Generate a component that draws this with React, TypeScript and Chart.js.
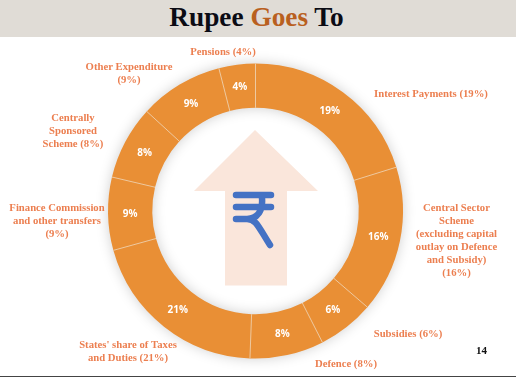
import React, { useEffect, useRef } from "react";
import { Chart, registerables } from "chart.js";

Chart.register(...registerables);

const categories = [
  "Interest Payments",
  "Central Sector Scheme",
  "Subsidies",
  "Defence",
  "States' share of Taxes and Duties",
  "Finance Commission and other transfers",
  "Centrally Sponsored Scheme",
  "Other Expenditure",
  "Pensions",
];
const sliceValues = [20.2, 16.1, 6.2, 8.1, 20.1, 8, 8.1, 9.2, 4];
const sliceLabels = ["19%", "16%", "6%", "8%", "21%", "9%", "8%", "9%", "4%"];

const serif = '"Liberation Serif", serif';
const calloutColor = "#ec7f50";

const callouts = [
  { lines: ["Interest Payments (19%)"], x: 431, y: 94.5 },
  { lines: ["Central Sector", "Scheme", "(excluding capital", "outlay on Defence", "and Subsidy)", "(16%)"], x: 456.5, y: 240.5 },
  { lines: ["Subsidies (6%)"], x: 408, y: 334 },
  { lines: ["Defence (8%)"], x: 346, y: 364 },
  { lines: ["States' share of Taxes", "and Duties (21%)"], x: 128, y: 351.5 },
  { lines: ["Finance Commission", "and other transfers", "(9%)"], x: 57, y: 221 },
  { lines: ["Centrally", "Sponsored", "Scheme (8%)"], x: 73, y: 131 },
  { lines: ["Other Expenditure", "(9%)"], x: 129, y: 74 },
  { lines: ["Pensions (4%)"], x: 223, y: 52.5 },
];

export default function App() {
  const ref = useRef<HTMLCanvasElement>(null);
  useEffect(() => {
    document.body.style.margin = "0";
    const chart = new Chart(ref.current!, {
      type: "doughnut",
      data: {
        labels: categories,
        datasets: [
          {
            data: sliceValues,
            backgroundColor: "#e98f35",
            borderWidth: 0,
            hoverOffset: 0,
          },
        ],
      },
      options: {
        animation: false,
        responsive: false,
        cutout: "70%",
        layout: { padding: { left: 108, right: 113, top: 63, bottom: 18 } },
        plugins: { legend: { display: false }, tooltip: { enabled: false } },
      },
      plugins: [
        {
          id: "ringShadow",
          beforeDatasetsDraw(c) {
            const arc: any = c.getDatasetMeta(0).data[0];
            const ctx = c.ctx;
            ctx.save();
            ctx.shadowColor = "rgba(0,0,0,0.22)";
            ctx.shadowBlur = 14;
            ctx.fillStyle = "#e98f35";
            ctx.beginPath();
            ctx.arc(arc.x, arc.y, arc.outerRadius - 1, 0, Math.PI * 2);
            ctx.arc(arc.x, arc.y, arc.innerRadius + 1, 0, Math.PI * 2, true);
            ctx.fill();
            ctx.restore();
          },
        },
        {
          id: "texts",
          afterDraw(c) {
            const ctx = c.ctx;
            ctx.save();
            ctx.strokeStyle = "#eec9a0";
            ctx.lineWidth = 1;
            c.getDatasetMeta(0).data.forEach((arc: any) => {
              const a = arc.startAngle;
              ctx.beginPath();
              ctx.moveTo(arc.x + Math.cos(a) * arc.innerRadius, arc.y + Math.sin(a) * arc.innerRadius);
              ctx.lineTo(arc.x + Math.cos(a) * arc.outerRadius, arc.y + Math.sin(a) * arc.outerRadius);
              ctx.stroke();
            });
            ctx.textAlign = "center";
            ctx.textBaseline = "middle";
            ctx.fillStyle = "#ffffff";
            ctx.font = 'bold 10px "Open Sans", sans-serif';
            c.getDatasetMeta(0).data.forEach((arc, i) => {
              const p = arc.getCenterPoint();
              ctx.fillText(sliceLabels[i], p.x, p.y + 1);
            });
            ctx.fillStyle = calloutColor;
            ctx.font = `bold 10.7px ${serif}`;
            callouts.forEach((t) => {
              const top = t.y - ((t.lines.length - 1) * 13) / 2;
              t.lines.forEach((l, j) => ctx.fillText(l, t.x, top + j * 13));
            });
            ctx.restore();
          },
        },
      ],
    });
    return () => chart.destroy();
  }, []);

  return (
    <div style={{ position: "relative", width: 516, height: 377, background: "#fff", overflow: "hidden" }}>
      <div
        style={{
          position: "absolute", left: 0, top: 0, width: 516, height: 37, paddingRight: 3, boxSizing: "border-box", background: "#e0dcd6",
          textAlign: "center", font: `bold 27.3px/35px ${serif}`, color: "#0b0b14",
        }}
      >
        Rupee <span style={{ color: "#b9601f" }}>Goes</span> To
      </div>
      <svg width={516} height={377} style={{ position: "absolute", left: 0, top: 0 }}>
        <polygon points="255,130 318,191 287,191 287,285.5 225,285.5 225,191 194,191" fill="#fae6db" />
        <path
          d="M236 195 H271 M236 207 H271 M236 219 H247 C258 219 263 210 262 198 M247 219 C256 219 258 226 270 245"
          fill="none" stroke="#4472c4" strokeWidth={6.5} strokeLinecap="round" strokeLinejoin="round"
        />
      </svg>
      <canvas ref={ref} width={516} height={377} style={{ position: "absolute", left: 0, top: 0 }} />
      <div style={{ position: "absolute", left: 476, top: 343, font: `bold 11px/14px ${serif}`, color: "#111" }}>14</div>
      <div style={{ position: "absolute", left: 0, top: 376, width: 516, height: 1, background: "#444" }} />
    </div>
  );
}
